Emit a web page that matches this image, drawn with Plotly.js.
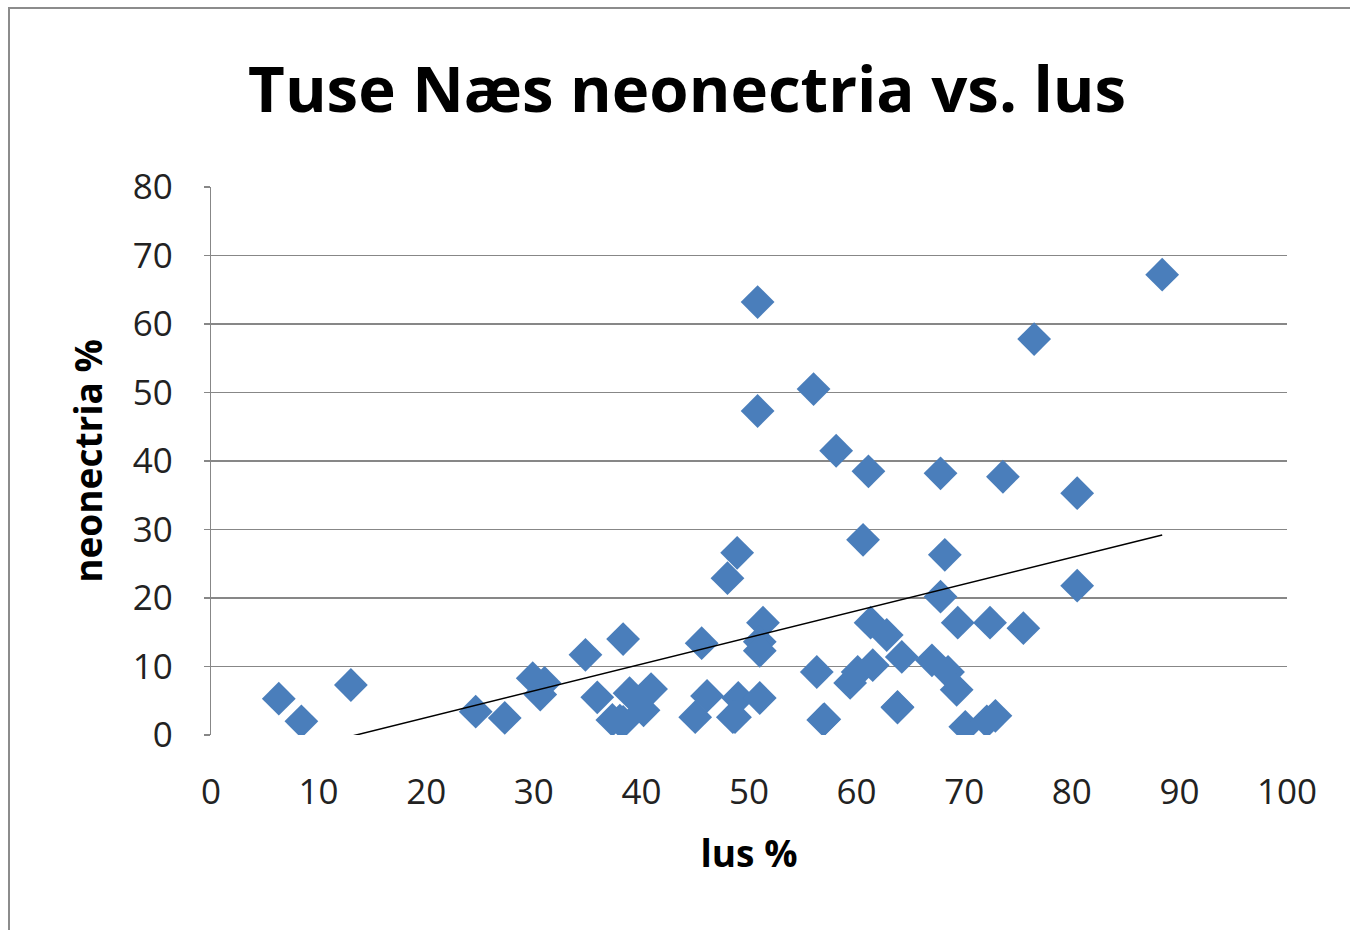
<!DOCTYPE html>
<html>
<head>
<meta charset="utf-8">
<script src="https://cdn.plot.ly/plotly-3.0.1.min.js"></script>
<style>
  html, body { margin: 0; padding: 0; background: #fff; }
  #wrap { position: relative; width: 1350px; height: 930px; }
  #chart { width: 1350px; height: 930px; }
  #frame { position: absolute; left: 8px; top: 7px; width: 1360px; height: 940px;
           border-left: 2px solid #8c8c8c; border-top: 2px solid #8c8c8c; pointer-events: none; }
</style>
</head>
<body>
<div id="wrap">
  <div id="chart"></div>
  <div id="frame"></div>
</div>
<script>
// lus % (x) and neonectria % (y)
// (the last four pairs sit under other markers in the dense low clusters)
const lusPct = [
  6.3, 8.4, 13.0, 24.6, 27.3, 29.9, 31.0, 30.6, 34.8, 38.3,
  35.9, 37.3, 38.3, 38.9, 40.2, 40.9, 45.6, 48.0, 48.9, 46.1,
  45.0, 49.0, 48.5, 51.0, 51.3, 51.0, 51.0, 50.8, 50.8, 56.0,
  58.1, 56.3, 56.9, 59.4, 60.1, 61.5, 61.3, 62.8, 64.2, 63.8,
  60.6, 61.1, 67.8, 73.6, 76.5, 88.4, 80.5, 80.5, 68.2, 67.8,
  69.4, 72.4, 75.5, 67.0, 68.5, 69.3, 70.1, 72.1, 72.9,
  38.0, 48.7, 57.0, 63.8
];
const neonectriaPct = [
  5.3, 2.0, 7.3, 3.4, 2.5, 8.3, 7.6, 5.9, 11.7, 14.0,
  5.5, 2.2, 1.9, 6.1, 3.6, 6.7, 13.4, 22.9, 26.6, 5.7,
  2.6, 5.4, 2.6, 5.4, 16.4, 13.6, 12.3, 63.2, 47.3, 50.5,
  41.5, 9.2, 2.2, 7.6, 9.2, 10.2, 16.4, 14.6, 11.4, 4.1,
  28.5, 38.5, 38.2, 37.7, 57.8, 67.2, 35.3, 21.8, 26.3, 20.2,
  16.4, 16.4, 15.6, 10.9, 9.2, 6.6, 1.2, 2.0, 2.8,
  2.1, 2.6, 2.3, 4.0
];
const xTicks = [0, 10, 20, 30, 40, 50, 60, 70, 80, 90, 100];
const yTicks = [0, 10, 20, 30, 40, 50, 60, 70, 80];
const chartTitle = "Tuse Næs neonectria vs. lus";
const xTitle = "lus %";
const yTitle = "neonectria %";

// Linear trendline (least squares), drawn from min to max x
const n = lusPct.length;
const mx = lusPct.reduce((a, b) => a + b, 0) / n;
const my = neonectriaPct.reduce((a, b) => a + b, 0) / n;
let sxy = 0, sxx = 0;
for (let i = 0; i < n; i++) { sxy += (lusPct[i] - mx) * (neonectriaPct[i] - my); sxx += (lusPct[i] - mx) ** 2; }
const slope = sxy / sxx;
const intercept = my - slope * mx;
const xMin = Math.min(...lusPct), xMax = Math.max(...lusPct);
const trendX = [xMin, xMax];
const trendY = trendX.map(v => intercept + slope * v);

const FONT = "'Open Sans', Lato, sans-serif";

const data = [
  {
    type: 'scatter', mode: 'markers', x: lusPct, y: neonectriaPct,
    marker: { symbol: 'diamond', size: 26, color: '#4a7ebb', line: { width: 0 } },
    showlegend: false, hoverinfo: 'x+y'
  },
  {
    type: 'scatter', mode: 'lines', x: trendX, y: trendY,
    line: { color: '#000000', width: 1.5 }, showlegend: false, hoverinfo: 'skip'
  }
];

const layout = {
  width: 1350, height: 930,
  paper_bgcolor: '#ffffff', plot_bgcolor: '#ffffff',
  margin: { l: 211, r: 63, t: 187, b: 195 },
  font: { family: FONT, color: '#000' },
  title: {
    text: '<b>' + chartTitle + '</b>',
    font: { family: FONT, size: 63.5, color: '#000' },
    x: 0.509, xref: 'container', xanchor: 'center',
    y: 0.903, yref: 'container', yanchor: 'middle'
  },
  xaxis: {
    range: [0, 100], tickvals: xTicks, ticktext: xTicks.map(String),
    showgrid: false, zeroline: false, showline: false,
    ticks: '', ticklabelstandoff: 33,
    tickfont: { family: FONT, size: 35, color: '#222' },
    title: { text: '<b>' + xTitle + '</b>', font: { family: FONT, size: 37, color: '#000' }, standoff: 28 },
    fixedrange: true
  },
  yaxis: {
    range: [0, 80], tickvals: yTicks, ticktext: yTicks.map(String),
    showgrid: true, gridcolor: '#878787', gridwidth: 1.3,
    zeroline: false, showline: true, linecolor: '#878787', linewidth: 1.3,
    ticks: 'outside', ticklen: 6, tickcolor: '#878787', tickwidth: 1.3,
    ticklabelstandoff: 24,
    tickfont: { family: FONT, size: 35, color: '#222' },
    title: { text: '<b>' + yTitle + '</b>', font: { family: FONT, size: 37, color: '#000' }, standoff: 18 },
    fixedrange: true
  }
};

Plotly.newPlot('chart', data, layout, { displayModeBar: false, staticPlot: true });
</script>
</body>
</html>
